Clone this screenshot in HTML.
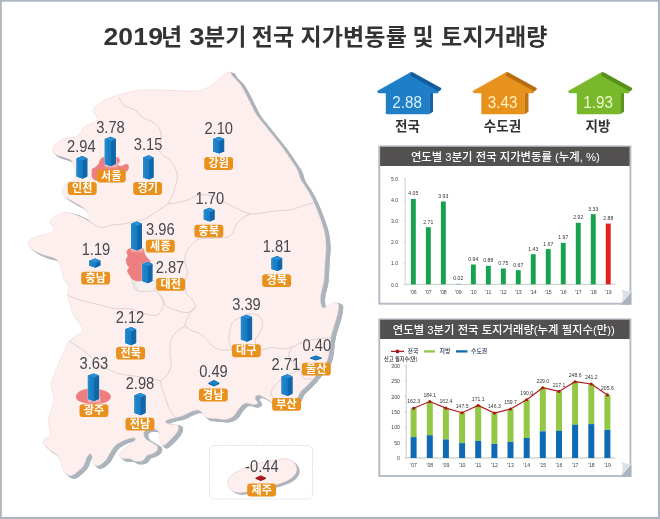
<!DOCTYPE html>
<html lang="ko"><head><meta charset="utf-8"><title>2019년 3분기 전국 지가변동률 및 토지거래량</title>
<style>
html,body{margin:0;padding:0;background:#fff}
body{width:660px;height:519px;overflow:hidden}
svg{display:block}
text{font-family:"Liberation Sans", "Noto Sans CJK KR", sans-serif}
.ttl{font-size:23px;font-weight:700;fill:#333;text-anchor:middle;letter-spacing:0.13px}
.lb{font-size:11px;font-weight:700;fill:#fff;text-anchor:middle;letter-spacing:0.2px}
.vl{font-size:16.9px;fill:#464852;text-anchor:middle}
.hn{font-size:13.5px;font-weight:700;fill:#333;text-anchor:middle}
.hv{font-size:16px;text-anchor:middle}
.ch{font-size:11.35px;font-weight:500;fill:#fff;text-anchor:middle}
.ax{font-size:5.2px;fill:#444;text-anchor:middle}
.axr{font-size:5.2px;fill:#444;text-anchor:end}
.bv{font-size:5.1px;fill:#333;text-anchor:middle}
.lg{font-size:5.9px;font-weight:700;fill:#4a5872}
</style></head><body>
<svg width="660" height="519" viewBox="0 0 660 519">
<defs>
<linearGradient id="bl" x1="0" x2="1" y1="0" y2="0"><stop offset="0" stop-color="#2a8fd4"/><stop offset="0.35" stop-color="#1c83c9"/><stop offset="1" stop-color="#177bc1"/></linearGradient>
<linearGradient id="refl" x1="0" x2="0" y1="0" y2="1"><stop offset="0" stop-color="#ffffff" stop-opacity="0.0"/><stop offset="0.6" stop-color="#f6f2f2" stop-opacity="0.45"/><stop offset="1" stop-color="#e6e2e2" stop-opacity="0"/></linearGradient>
<path id="ml" d="M93.7 112.8C93.2 111.3 93.4 109.5 94.5 107.8C95.6 106.1 97.7 104.4 100.4 102.7C103.1 101.0 107.2 99.1 110.5 97.7C113.8 96.3 116.6 95.4 120.5 94.3C124.4 93.2 129.1 91.8 134.0 91.0C138.9 90.2 143.2 89.9 150.0 89.8C156.8 89.7 167.5 90.3 175.0 90.5C182.5 90.7 189.6 91.5 195.0 91.0C200.4 90.5 204.2 88.9 207.5 87.5C210.8 86.1 212.5 84.4 215.0 82.5C217.5 80.6 220.1 77.8 222.5 76.0C224.9 74.2 227.8 72.0 229.5 72.0C231.2 72.0 230.8 74.0 232.5 76.0C234.2 78.0 237.9 81.2 240.0 84.0C242.1 86.8 243.3 89.4 245.0 92.5C246.7 95.6 248.2 98.9 250.0 102.5C251.8 106.1 253.9 110.7 256.0 114.0C258.1 117.3 259.8 119.0 262.5 122.5C265.2 126.0 269.2 130.8 272.5 135.0C275.8 139.2 279.4 143.3 282.5 147.5C285.6 151.7 288.5 156.2 291.0 160.0C293.5 163.8 295.8 166.7 297.5 170.0C299.2 173.3 299.3 176.7 301.0 180.0C302.7 183.3 305.3 186.2 307.5 190.0C309.7 193.8 312.1 198.3 314.0 202.5C315.9 206.7 317.3 210.4 319.0 215.0C320.7 219.6 322.8 225.0 324.0 230.0C325.2 235.0 325.8 239.6 326.0 245.0C326.2 250.4 325.3 256.7 325.0 262.5C324.7 268.3 324.5 275.4 324.0 280.0C323.5 284.6 322.4 287.2 321.8 290.0C321.2 292.8 320.7 294.8 320.5 297.0C320.3 299.2 320.5 301.3 320.8 303.0C321.1 304.7 321.6 306.5 322.3 307.3C323.0 308.1 323.9 308.0 325.2 307.6C326.5 307.2 328.5 305.9 330.0 305.0C331.5 304.1 332.8 302.7 334.0 302.4C335.2 302.1 336.7 302.8 337.5 303.4C338.3 304.0 338.7 303.8 338.7 305.8C338.7 307.8 338.1 311.8 337.3 315.2C336.5 318.6 335.0 322.6 334.0 326.0C333.0 329.4 332.0 332.0 331.3 335.4C330.6 338.8 330.3 342.8 329.9 346.2C329.4 349.6 329.2 353.0 328.6 355.6C328.0 358.2 327.5 360.0 326.5 362.0C325.5 364.0 323.8 365.9 322.5 367.5C321.2 369.1 320.6 369.8 318.9 371.9C317.2 374.0 314.4 377.8 312.2 380.3C310.0 382.8 307.5 385.1 305.5 387.0C303.5 388.9 301.7 390.3 300.4 392.0C299.1 393.7 298.8 395.2 297.9 397.0C297.0 398.8 296.6 401.3 295.0 403.0C293.4 404.7 290.5 406.5 288.0 407.0C285.5 407.5 282.5 406.7 280.0 406.0C277.5 405.3 274.4 403.8 272.8 403.0C271.2 402.2 271.5 402.1 270.2 401.2C268.9 400.3 266.9 398.9 265.2 397.9C263.5 396.9 261.6 395.8 260.2 395.4C258.8 395.0 257.7 394.8 256.8 395.4C256.0 395.9 254.9 397.4 255.1 398.7C255.2 399.9 258.0 401.9 257.7 402.9C257.4 403.9 255.3 404.6 253.5 404.6C251.7 404.6 248.7 402.8 246.7 402.9C244.7 403.0 243.2 404.1 241.7 405.4C240.2 406.7 238.5 409.1 237.5 410.5C236.5 411.9 236.5 412.4 235.6 413.5C234.7 414.6 234.0 415.9 232.3 416.9C230.6 417.9 228.4 419.1 225.6 419.4C222.8 419.7 218.6 418.9 215.5 418.6C212.4 418.3 209.1 418.4 207.0 417.7C204.9 417.0 204.1 415.5 203.0 414.4C201.9 413.3 201.7 411.7 200.4 411.0C199.1 410.3 197.4 409.9 195.4 410.2C193.4 410.5 190.9 411.7 188.7 412.7C186.5 413.7 184.2 415.2 182.0 416.0C179.8 416.8 178.1 416.9 175.6 417.6C173.1 418.3 168.9 419.2 167.2 420.0C165.5 420.8 164.9 421.9 165.5 422.6C166.1 423.3 168.6 423.9 170.6 424.3C172.6 424.7 176.1 424.1 177.3 425.0C178.6 425.9 178.7 428.2 178.1 430.0C177.5 431.8 175.5 434.2 174.0 436.0C172.5 437.8 170.7 439.4 169.0 441.0C167.3 442.6 165.3 444.9 163.9 445.3C162.5 445.7 161.2 445.0 160.5 443.6C159.8 442.2 160.0 438.9 159.7 436.9C159.4 434.9 159.5 433.1 158.8 431.8C158.1 430.5 157.0 429.9 155.5 429.3C154.0 428.8 151.7 428.4 150.0 428.5C148.3 428.6 146.6 429.2 145.5 430.0C144.4 430.8 143.7 432.1 143.7 433.5C143.7 434.9 144.0 437.1 145.4 438.6C146.8 440.2 150.2 441.6 152.1 442.8C154.0 444.1 156.3 444.9 157.1 446.1C157.9 447.4 157.9 449.0 157.1 450.3C156.3 451.6 153.8 452.9 152.1 453.7C150.4 454.5 148.6 454.2 147.1 455.3C145.6 456.4 144.9 459.4 142.9 460.4C140.9 461.4 137.4 461.5 135.3 461.2C133.2 460.9 132.2 459.1 130.3 458.7C128.4 458.3 125.4 459.1 123.6 458.7C121.8 458.3 120.0 457.2 119.4 456.2C118.8 455.2 119.2 454.1 120.2 452.8C121.2 451.5 123.5 450.1 125.3 448.6C127.0 447.1 129.0 445.1 130.7 443.6C132.4 442.1 135.4 440.4 135.7 439.4C136.0 438.4 134.2 437.6 132.3 437.8C130.4 438.0 126.8 439.1 124.0 440.3C121.2 441.6 117.8 443.4 115.6 445.3C113.3 447.2 112.2 449.5 110.5 452.0C108.8 454.5 107.5 458.2 105.5 460.4C103.5 462.6 100.8 464.7 98.8 465.4C96.8 466.1 94.8 465.7 93.8 464.6C92.8 463.5 93.5 460.5 92.9 458.7C92.3 456.9 91.4 454.0 90.4 453.7C89.4 453.4 88.1 455.1 87.0 457.0C85.9 458.9 85.1 463.1 83.7 465.4C82.3 467.6 80.7 468.8 78.7 470.5C76.7 472.2 74.0 474.9 71.9 475.5C69.8 476.1 67.6 474.9 66.1 473.8C64.6 472.7 63.7 471.0 62.7 468.8C61.7 466.6 61.5 462.9 60.2 460.4C59.0 457.9 57.2 455.6 55.2 453.7C53.2 451.8 50.5 450.4 48.5 448.7C46.5 447.0 44.1 445.2 43.4 443.6C42.7 442.1 43.2 440.8 44.3 439.4C45.4 438.0 49.3 437.0 50.1 435.2C50.9 433.4 49.6 431.3 49.3 428.5C49.0 425.7 48.1 421.9 48.5 418.5C48.9 415.1 50.9 411.8 51.8 408.4C52.7 405.0 54.1 401.9 54.0 398.0C53.9 394.1 50.8 389.2 51.0 385.0C51.2 380.8 53.5 376.7 55.0 372.5C56.5 368.3 58.3 363.8 60.0 360.0C61.7 356.2 63.5 353.2 65.0 350.0C66.5 346.8 67.2 343.3 69.0 341.0C70.8 338.7 73.8 337.7 76.0 336.0C78.2 334.3 81.8 333.0 82.5 331.0C83.2 329.0 81.4 326.5 80.0 324.0C78.6 321.5 75.5 318.8 74.0 316.0C72.5 313.2 72.1 311.0 71.0 307.5C69.9 304.0 67.9 298.6 67.5 295.0C67.1 291.4 69.3 288.3 68.7 285.6C68.1 282.9 64.8 281.4 63.7 278.9C62.6 276.4 62.8 273.3 62.0 270.5C61.2 267.7 60.1 264.1 58.7 262.0C57.3 259.9 56.1 259.1 53.6 257.9C51.1 256.7 47.0 256.3 43.6 255.0C40.2 253.7 36.0 251.8 33.5 250.0C31.0 248.2 29.1 246.2 28.5 244.5C27.9 242.8 28.3 241.4 30.0 240.0C31.7 238.6 35.4 237.1 38.5 236.0C41.6 234.9 45.9 234.6 48.6 233.6C51.3 232.6 53.8 231.1 54.5 230.0C55.2 228.9 53.5 228.2 52.8 226.8C52.1 225.4 49.9 223.5 50.3 221.8C50.7 220.1 53.1 218.3 55.3 216.8C57.5 215.3 60.9 213.2 63.7 212.6C66.5 212.0 69.2 212.7 72.0 213.4C74.8 214.1 77.7 215.5 80.5 216.8C83.3 218.1 87.5 220.5 88.9 221.0C90.3 221.5 89.1 221.3 88.9 220.0C88.8 218.7 89.2 215.6 88.0 213.4C86.8 211.2 84.4 208.6 82.0 206.7C79.6 204.8 76.6 203.6 73.8 202.0C71.0 200.4 67.4 198.7 65.4 197.0C63.4 195.3 62.3 193.7 62.0 192.0C61.7 190.3 62.6 188.7 63.7 187.0C64.8 185.3 66.8 183.4 68.7 182.0C70.7 180.6 74.4 180.9 75.4 178.7C76.4 176.5 75.2 171.5 74.6 168.6C74.0 165.7 73.5 162.8 72.0 161.0C70.5 159.2 67.9 158.7 65.4 157.7C62.9 156.7 59.1 156.0 57.0 155.0C54.9 154.0 53.4 153.2 52.8 151.8C52.2 150.4 52.6 148.5 53.6 146.8C54.6 145.1 56.7 143.1 58.7 141.7C60.7 140.3 62.7 139.2 65.4 138.4C68.1 137.6 72.4 138.1 75.0 137.0C77.6 135.9 79.6 133.7 81.0 132.0C82.4 130.3 82.0 128.3 83.6 127.0C85.1 125.7 88.2 125.0 90.3 124.0C92.4 123.0 94.9 122.3 96.1 121.1C97.3 119.9 98.0 118.4 97.6 117.0C97.2 115.6 94.2 114.3 93.7 112.8Z"/>
<clipPath id="mc"><use href="#ml"/></clipPath>
</defs>
<rect x="0" y="0" width="660" height="519" fill="#adb5be"/>
<rect x="1.8" y="1.7" width="656.2" height="515.2" fill="#ffffff"/>
<text transform="translate(103.4 44.8) scale(1.155 1)" class="ttl" style="text-anchor:start">2019</text><text transform="translate(189.2 44.8) scale(1.2 1)" class="ttl" style="text-anchor:start">3</text><text y="44.8" class="ttl" style="text-anchor:start"><tspan x="160.9">년</tspan> <tspan x="204">분기</tspan> <tspan x="251.7">전국</tspan> <tspan x="300.5">지가변동률</tspan> <tspan x="412.5">및</tspan> <tspan x="441.1">토지거래량</tspan></text>

<g id="map">
<use href="#ml" transform="translate(1.2,0.3)" fill="#acb4bc"/>
<use href="#ml" transform="translate(2.3,0.6)" fill="#acb4bc"/>
<use href="#ml" transform="translate(3.5,0.9)" fill="#acb4bc"/>
<use href="#ml" transform="translate(4.6,1.2)" fill="#acb4bc"/>
<use href="#ml" transform="translate(4.5,1.9)" fill="#acb4bc"/>
<use href="#ml" transform="translate(4.2,2.4)" fill="#acb4bc"/>
<use href="#ml" transform="translate(3.8,2.9)" fill="#acb4bc"/>
<use href="#ml" transform="translate(3.4,3.2)" fill="#acb4bc"/>
<use href="#ml" transform="translate(2.5,2.4)" fill="#acb4bc"/>
<use href="#ml" transform="translate(1.7,1.6)" fill="#acb4bc"/>
<use href="#ml" transform="translate(0.9,0.8)" fill="#acb4bc"/>
<use href="#ml" fill="#fdefed" stroke="#ead6d4" stroke-width="0.5"/>
<g fill="none" stroke="#c2bbbb" stroke-width="0.55" clip-path="url(#mc)">
<path d="M118.8 97.5C119.8 98.9 122.3 103.9 125.0 106.0C127.7 108.1 132.1 108.1 135.0 110.0C137.9 111.9 139.4 115.4 142.5 117.5C145.6 119.6 150.8 120.4 153.8 122.5C156.7 124.6 158.8 127.1 160.0 130.0C161.2 132.9 161.2 137.1 161.0 140.0C160.8 142.9 158.5 145.0 158.8 147.5C159.0 150.0 160.6 152.9 162.5 155.0C164.4 157.1 167.9 157.9 170.0 160.0C172.1 162.1 173.8 164.6 175.0 167.5C176.2 170.4 177.5 174.2 177.5 177.5C177.5 180.8 175.8 184.6 175.0 187.5C174.2 190.4 173.8 192.2 172.5 195.0C171.2 197.8 170.0 201.3 167.5 204.0C165.0 206.7 161.2 208.5 157.5 211.0C153.8 213.5 149.2 216.9 145.0 218.8C140.8 220.6 135.3 221.2 132.0 222.0C128.7 222.8 128.2 223.2 125.0 223.8C121.8 224.2 116.7 224.4 112.5 225.0C108.3 225.6 103.9 228.2 100.0 227.5C96.1 226.8 90.8 222.1 88.9 221.0"/>
<path d="M167.5 204.0C169.2 203.8 174.2 203.2 177.5 202.5C180.8 201.8 184.4 201.1 187.5 200.0C190.6 198.9 192.7 196.8 196.0 196.0C199.3 195.2 202.7 193.9 207.5 195.0C212.3 196.1 220.0 200.2 225.0 202.5C230.0 204.8 233.3 206.9 237.5 208.8C241.7 210.6 245.4 213.1 250.0 213.8C254.6 214.4 260.8 213.0 265.0 212.5C269.2 212.0 270.8 211.4 275.0 211.0C279.2 210.6 285.4 210.8 290.0 210.0C294.6 209.2 298.3 207.2 302.5 206.0C306.7 204.8 312.9 203.1 315.0 202.5"/>
<path d="M250.0 213.8C248.3 214.8 242.5 217.7 240.0 220.0C237.5 222.3 236.7 224.8 235.0 227.5C233.3 230.2 232.8 234.2 230.0 236.0C227.2 237.8 223.0 237.5 218.0 238.0C213.0 238.5 204.2 237.8 200.0 238.8C195.8 239.7 194.8 241.5 192.5 243.8C190.2 246.0 187.2 249.4 186.0 252.5C184.8 255.6 184.8 259.2 185.0 262.5C185.2 265.8 187.5 269.2 187.5 272.5C187.5 275.8 185.2 279.2 185.0 282.5C184.8 285.8 184.8 289.6 186.0 292.5C187.2 295.4 191.0 297.5 192.5 300.0C194.0 302.5 195.8 305.4 195.0 307.5C194.2 309.6 190.8 312.1 187.5 312.5C184.2 312.9 178.8 311.2 175.0 310.0C171.2 308.8 167.5 307.5 165.0 305.0C162.5 302.5 161.9 297.5 160.0 295.0C158.1 292.5 156.7 290.7 153.8 290.0C150.8 289.3 145.6 291.2 142.5 291.0C139.4 290.8 136.7 290.6 135.0 288.8C133.3 286.9 132.9 281.5 132.5 280.0"/>
<path d="M67.5 295.0C69.6 295.8 74.6 298.3 80.0 300.0C85.4 301.7 94.2 303.5 100.0 305.0C105.8 306.5 110.0 308.1 115.0 308.8C120.0 309.4 125.0 307.9 130.0 308.8C135.0 309.6 140.4 312.7 145.0 313.8C149.6 314.8 154.6 316.0 157.5 315.0C160.4 314.0 161.5 310.0 162.5 307.5C163.5 305.0 164.2 302.1 163.8 300.0C163.3 297.9 160.6 295.8 160.0 295.0"/>
<path d="M195.0 307.5C194.6 307.9 193.8 308.3 192.5 310.0C191.2 311.7 188.8 314.8 187.5 317.5C186.2 320.2 185.4 324.6 185.0 326.0"/>
<path d="M185.0 326.0C186.2 326.8 190.0 329.7 192.5 331.0C195.0 332.3 197.5 332.2 200.0 333.8C202.5 335.2 205.4 338.0 207.5 340.0C209.6 342.0 210.4 344.3 212.5 346.0C214.6 347.7 216.8 349.3 220.0 350.0C223.2 350.7 227.7 349.7 232.0 350.0C236.3 350.3 241.2 352.0 246.0 352.0C250.8 352.0 256.2 350.7 260.6 350.0C265.0 349.3 268.5 347.8 272.4 347.6C276.3 347.4 280.5 349.0 284.0 348.8C287.5 348.6 290.7 347.5 293.5 346.5C296.3 345.5 297.5 344.1 300.6 343.0C303.7 341.9 308.4 340.8 312.0 340.0C315.6 339.2 318.5 338.3 322.0 338.0C325.5 337.7 331.2 338.0 333.0 338.0"/>
<path d="M185.0 326.0C183.8 326.8 179.8 328.7 177.5 331.0C175.2 333.3 172.2 336.4 171.0 340.0C169.8 343.6 170.0 348.3 170.0 352.5C170.0 356.7 171.4 361.2 171.0 365.0C170.6 368.8 169.2 372.3 167.5 375.0C165.8 377.7 161.8 378.5 161.0 381.0C160.2 383.5 161.7 386.8 162.5 390.0C163.3 393.2 164.8 396.7 166.0 400.0C167.2 403.3 168.5 407.2 170.0 410.0C171.5 412.8 174.2 415.8 175.0 417.0"/>
<path d="M69.0 341.0C70.8 342.2 76.5 345.5 80.0 348.0C83.5 350.5 86.7 353.2 90.0 356.0C93.3 358.8 96.7 362.7 100.0 365.0C103.3 367.3 106.7 368.5 110.0 370.0C113.3 371.5 116.0 372.8 120.0 373.8C124.0 374.8 129.3 375.3 134.0 376.0C138.7 376.7 143.5 377.2 148.0 378.0C152.5 378.8 158.8 380.5 161.0 381.0"/>
<path d="M232.0 350.0C231.5 348.3 229.3 343.3 229.0 340.0C228.7 336.7 229.4 332.9 230.0 330.0C230.6 327.1 230.8 324.6 232.5 322.5C234.2 320.4 237.4 318.9 240.0 317.5C242.6 316.1 245.1 314.4 248.0 314.0C250.9 313.6 255.1 313.6 257.5 315.0C259.9 316.4 262.1 319.6 262.5 322.5C262.9 325.4 261.2 329.6 260.0 332.5C258.8 335.4 255.3 337.1 255.0 340.0C254.7 342.9 257.5 348.3 258.0 350.0"/>
<path d="M293.5 346.5C292.7 347.7 289.1 350.9 288.8 353.5C288.6 356.1 290.0 359.2 292.0 362.0C294.0 364.8 298.8 367.3 300.6 370.0C302.4 372.7 301.1 376.4 303.0 378.0C304.9 379.6 309.7 378.4 312.0 379.4C314.3 380.4 316.2 383.2 317.0 384.0"/>
<path d="M300.6 370.0C298.8 370.7 293.4 372.3 290.0 374.0C286.6 375.7 282.9 377.5 280.0 380.0C277.1 382.5 273.9 386.6 272.4 388.8C270.9 391.1 270.7 391.6 271.0 393.5C271.3 395.4 273.5 398.9 274.0 400.0"/>
</g>
<path d="M136.5 281.0C133.5 282.2 135.9 286.2 136.5 288.0C137.1 289.8 138.2 291.0 140.0 291.5C141.8 292.0 145.0 291.0 147.0 291.0C149.0 291.0 150.6 292.0 152.0 291.5C153.4 291.0 155.1 289.8 155.5 288.0C155.9 286.2 157.7 282.2 154.5 281.0C151.3 279.8 139.5 279.8 136.5 281.0Z" fill="#f6f1f1" stroke="#c9c3c3" stroke-width="0.5"/>
<path d="M91.9 177.0C91.4 175.7 91.7 173.3 91.7 172.0C91.7 170.7 91.4 170.1 91.9 169.3C92.5 168.5 94.0 168.1 95.0 167.3C96.0 166.5 97.3 165.7 98.1 164.6C98.9 163.5 99.0 162.0 99.6 160.8C100.2 159.7 101.0 158.3 101.9 157.7C102.8 157.0 103.5 157.1 105.0 156.9C106.5 156.7 109.1 156.6 111.0 156.6C112.9 156.6 115.2 156.6 116.6 156.9C118.0 157.2 118.8 157.7 119.3 158.5C119.8 159.3 119.9 160.7 119.7 161.6C119.5 162.5 118.2 163.2 118.1 163.9C118.0 164.6 118.1 165.6 118.9 165.8C119.7 166.1 121.6 165.7 122.7 165.4C123.8 165.1 124.9 164.0 125.8 163.9C126.7 163.8 127.6 164.0 128.1 164.6C128.6 165.2 129.0 166.7 128.9 167.7C128.8 168.7 128.0 170.0 127.4 170.8C126.8 171.6 125.6 171.3 125.1 172.3C124.6 173.3 125.3 175.6 124.5 177.0C123.7 178.4 124.1 180.3 120.0 181.0C115.9 181.7 104.2 181.2 100.0 181.0C95.8 180.8 95.8 180.7 94.5 180.0C93.2 179.3 92.4 178.3 91.9 177.0Z" fill="#ee7f80"/>
<path d="M127.1 250.6C127.7 249.8 128.3 248.8 130.0 248.3C131.7 247.8 134.8 247.6 137.0 247.6C139.2 247.6 142.1 247.5 143.3 248.3C144.6 249.1 144.0 251.0 144.5 252.3C145.0 253.7 145.3 255.1 146.2 256.4C147.1 257.7 148.9 258.8 149.7 259.9C150.5 260.9 150.6 260.7 150.8 262.7C151.0 264.7 151.5 269.3 151.0 272.0C150.5 274.7 149.5 277.6 148.0 279.0C146.5 280.4 144.0 280.3 142.2 280.7C140.4 281.1 138.7 281.4 137.0 281.2C135.3 281.0 133.6 280.4 132.3 279.5C131.1 278.6 130.4 276.9 129.5 275.5C128.6 274.1 127.2 272.2 127.1 270.8C127.0 269.4 129.0 268.5 128.9 267.4C128.8 266.2 127.1 265.2 126.6 263.9C126.1 262.5 125.8 260.6 126.0 259.3C126.2 258.0 127.6 256.9 127.7 255.8C127.8 254.7 126.7 253.8 126.6 252.9C126.5 252.0 126.5 251.4 127.1 250.6Z" fill="#ee7f80"/>
<path d="M76.0 396.2C76.1 395.0 76.7 393.8 77.7 392.7C78.8 391.6 80.6 390.6 82.3 389.9C84.0 389.2 86.0 388.9 88.1 388.7C90.2 388.4 92.7 388.2 95.0 388.4C97.3 388.6 99.9 389.3 102.0 389.9C104.1 390.5 106.3 391.2 107.8 392.2C109.2 393.1 110.3 394.5 110.7 395.6C111.1 396.8 110.8 398.0 110.1 399.1C109.4 400.2 108.3 401.2 106.6 402.0C104.9 402.8 101.8 403.4 99.7 403.7C97.6 404.0 95.9 404.0 94.0 404.0C92.1 404.0 90.2 404.0 88.1 403.7C86.0 403.4 83.0 402.7 81.2 402.0C79.4 401.3 78.0 400.7 77.1 399.7C76.2 398.7 75.9 397.4 76.0 396.2Z" fill="#ee7f80"/>
</g>
<rect x="209.5" y="445.5" width="103" height="53.5" rx="5" fill="#fff" stroke="#c4c4c4" stroke-width="0.8" stroke-dasharray="1 1.2"/>
<path d="M227.9 483.6C227.7 481.6 228.3 479.4 229.4 477.6C230.5 475.8 232.5 474.4 234.7 473.0C236.8 471.6 239.8 470.3 242.3 469.2C244.8 468.1 246.9 467.2 249.8 466.2C252.8 465.2 256.6 463.9 260.0 463.0C263.4 462.1 266.9 461.4 270.0 460.8C273.1 460.2 275.9 459.8 278.6 459.4C281.3 459.0 283.9 458.4 286.2 458.6C288.5 458.9 290.6 459.8 292.3 460.9C294.0 462.0 295.4 463.9 296.1 465.5C296.9 467.1 297.2 469.0 296.8 470.8C296.4 472.6 295.3 474.5 293.8 476.1C292.3 477.7 290.0 479.4 287.7 480.6C285.4 481.9 283.1 482.6 280.2 483.6C277.2 484.6 273.7 485.4 270.0 486.5C266.3 487.6 261.9 489.1 258.0 490.0C254.1 490.9 250.2 491.6 246.8 492.0C243.4 492.4 240.3 493.1 237.7 492.7C235.0 492.3 232.5 491.2 230.9 489.7C229.3 488.2 228.2 485.6 227.9 483.6Z" transform="translate(2.7,2.1)" fill="#acb4bc"/><path d="M227.9 483.6C227.7 481.6 228.3 479.4 229.4 477.6C230.5 475.8 232.5 474.4 234.7 473.0C236.8 471.6 239.8 470.3 242.3 469.2C244.8 468.1 246.9 467.2 249.8 466.2C252.8 465.2 256.6 463.9 260.0 463.0C263.4 462.1 266.9 461.4 270.0 460.8C273.1 460.2 275.9 459.8 278.6 459.4C281.3 459.0 283.9 458.4 286.2 458.6C288.5 458.9 290.6 459.8 292.3 460.9C294.0 462.0 295.4 463.9 296.1 465.5C296.9 467.1 297.2 469.0 296.8 470.8C296.4 472.6 295.3 474.5 293.8 476.1C292.3 477.7 290.0 479.4 287.7 480.6C285.4 481.9 283.1 482.6 280.2 483.6C277.2 484.6 273.7 485.4 270.0 486.5C266.3 487.6 261.9 489.1 258.0 490.0C254.1 490.9 250.2 491.6 246.8 492.0C243.4 492.4 240.3 493.1 237.7 492.7C235.0 492.3 232.5 491.2 230.9 489.7C229.3 488.2 228.2 485.6 227.9 483.6Z" transform="translate(1.4,1.1)" fill="#acb4bc"/><path d="M227.9 483.6C227.7 481.6 228.3 479.4 229.4 477.6C230.5 475.8 232.5 474.4 234.7 473.0C236.8 471.6 239.8 470.3 242.3 469.2C244.8 468.1 246.9 467.2 249.8 466.2C252.8 465.2 256.6 463.9 260.0 463.0C263.4 462.1 266.9 461.4 270.0 460.8C273.1 460.2 275.9 459.8 278.6 459.4C281.3 459.0 283.9 458.4 286.2 458.6C288.5 458.9 290.6 459.8 292.3 460.9C294.0 462.0 295.4 463.9 296.1 465.5C296.9 467.1 297.2 469.0 296.8 470.8C296.4 472.6 295.3 474.5 293.8 476.1C292.3 477.7 290.0 479.4 287.7 480.6C285.4 481.9 283.1 482.6 280.2 483.6C277.2 484.6 273.7 485.4 270.0 486.5C266.3 487.6 261.9 489.1 258.0 490.0C254.1 490.9 250.2 491.6 246.8 492.0C243.4 492.4 240.3 493.1 237.7 492.7C235.0 492.3 232.5 491.2 230.9 489.7C229.3 488.2 228.2 485.6 227.9 483.6Z" fill="#fdefed" stroke="#d9c3c1" stroke-width="0.5"/>
<polygon points="76.6,172.8 88.9,172.8 88.9,181.8 76.6,181.8" fill="url(#refl)"/><polygon points="76.6,158.2 82.2,156.0 87.4,158.2 87.4,176.6 82.7,178.8 76.6,176.6" fill="#1066ab" stroke="#fff" stroke-opacity="0.5" stroke-width="1.3" stroke-linejoin="round"/><polygon points="76.6,158.2 82.2,156.0 87.4,158.2 87.4,176.6 82.7,178.8 76.6,176.6" fill="#1066ab"/><polygon points="76.6,158.2 82.7,160.4 82.7,178.8 76.6,176.6" fill="url(#bl)"/><polygon points="76.6,158.2 82.2,156.0 87.4,158.2 82.7,160.4" fill="#2a8ed2"/>
<polygon points="104.8,160.2 117.4,160.2 117.4,169.2 104.8,169.2" fill="url(#refl)"/><polygon points="104.8,139.0 110.6,136.8 115.9,139.0 115.9,164.0 111.1,166.2 104.8,164.0" fill="#1066ab" stroke="#fff" stroke-opacity="0.5" stroke-width="1.3" stroke-linejoin="round"/><polygon points="104.8,139.0 110.6,136.8 115.9,139.0 115.9,164.0 111.1,166.2 104.8,164.0" fill="#1066ab"/><polygon points="104.8,139.0 111.1,141.2 111.1,166.2 104.8,164.0" fill="url(#bl)"/><polygon points="104.8,139.0 110.6,136.8 115.9,139.0 111.1,141.2" fill="#2a8ed2"/>
<polygon points="143.0,173.6 155.2,173.6 155.2,182.6 143.0,182.6" fill="url(#refl)"/><polygon points="143.0,157.5 148.6,155.3 153.7,157.5 153.7,177.4 149.1,179.6 143.0,177.4" fill="#1066ab" stroke="#fff" stroke-opacity="0.5" stroke-width="1.3" stroke-linejoin="round"/><polygon points="143.0,157.5 148.6,155.3 153.7,157.5 153.7,177.4 149.1,179.6 143.0,177.4" fill="#1066ab"/><polygon points="143.0,157.5 149.1,159.7 149.1,179.6 143.0,177.4" fill="url(#bl)"/><polygon points="143.0,157.5 148.6,155.3 153.7,157.5 149.1,159.7" fill="#2a8ed2"/>
<polygon points="213.1,147.6 225.7,147.6 225.7,156.6 213.1,156.6" fill="url(#refl)"/><polygon points="213.1,139.0 218.9,136.8 224.2,139.0 224.2,151.4 219.4,153.6 213.1,151.4" fill="#1066ab" stroke="#fff" stroke-opacity="0.5" stroke-width="1.3" stroke-linejoin="round"/><polygon points="213.1,139.0 218.9,136.8 224.2,139.0 224.2,151.4 219.4,153.6 213.1,151.4" fill="#1066ab"/><polygon points="213.1,139.0 219.4,141.2 219.4,153.6 213.1,151.4" fill="url(#bl)"/><polygon points="213.1,139.0 218.9,136.8 224.2,139.0 219.4,141.2" fill="#2a8ed2"/>
<polygon points="203.8,215.6 216.2,215.6 216.2,224.6 203.8,224.6" fill="url(#refl)"/><polygon points="203.8,209.9 209.5,207.7 214.7,209.9 214.7,219.4 210.0,221.6 203.8,219.4" fill="#1066ab" stroke="#fff" stroke-opacity="0.5" stroke-width="1.3" stroke-linejoin="round"/><polygon points="203.8,209.9 209.5,207.7 214.7,209.9 214.7,219.4 210.0,221.6 203.8,219.4" fill="#1066ab"/><polygon points="203.8,209.9 210.0,212.1 210.0,221.6 203.8,219.4" fill="url(#bl)"/><polygon points="203.8,209.9 209.5,207.7 214.7,209.9 210.0,212.1" fill="#2a8ed2"/>
<polygon points="131.1,244.4 143.5,244.4 143.5,253.4 131.1,253.4" fill="url(#refl)"/><polygon points="131.1,223.8 136.8,221.6 142.0,223.8 142.0,248.2 137.3,250.4 131.1,248.2" fill="#1066ab" stroke="#fff" stroke-opacity="0.5" stroke-width="1.3" stroke-linejoin="round"/><polygon points="131.1,223.8 136.8,221.6 142.0,223.8 142.0,248.2 137.3,250.4 131.1,248.2" fill="#1066ab"/><polygon points="131.1,223.8 137.3,226.0 137.3,250.4 131.1,248.2" fill="url(#bl)"/><polygon points="131.1,223.8 136.8,221.6 142.0,223.8 137.3,226.0" fill="#2a8ed2"/>
<polygon points="89.2,261.8 102.0,261.8 102.0,270.8 89.2,270.8" fill="url(#refl)"/><polygon points="89.2,260.7 95.1,258.5 100.5,260.7 100.5,265.6 95.6,267.8 89.2,265.6" fill="#1066ab" stroke="#fff" stroke-opacity="0.5" stroke-width="1.3" stroke-linejoin="round"/><polygon points="89.2,260.7 95.1,258.5 100.5,260.7 100.5,265.6 95.6,267.8 89.2,265.6" fill="#1066ab"/><polygon points="89.2,260.7 95.6,262.9 95.6,267.8 89.2,265.6" fill="url(#bl)"/><polygon points="89.2,260.7 95.1,258.5 100.5,260.7 95.6,262.9" fill="#2a8ed2"/>
<polygon points="142.2,277.3 154.0,277.3 154.0,286.3 142.2,286.3" fill="url(#refl)"/><polygon points="142.2,264.0 147.5,261.8 152.5,264.0 152.5,281.1 148.0,283.3 142.2,281.1" fill="#1066ab" stroke="#fff" stroke-opacity="0.5" stroke-width="1.3" stroke-linejoin="round"/><polygon points="142.2,264.0 147.5,261.8 152.5,264.0 152.5,281.1 148.0,283.3 142.2,281.1" fill="#1066ab"/><polygon points="142.2,264.0 148.0,266.2 148.0,283.3 142.2,281.1" fill="url(#bl)"/><polygon points="142.2,264.0 147.5,261.8 152.5,264.0 148.0,266.2" fill="#2a8ed2"/>
<polygon points="271.5,265.1 283.8,265.1 283.8,274.1 271.5,274.1" fill="url(#refl)"/><polygon points="271.5,258.2 277.1,256.0 282.2,258.2 282.2,268.9 277.6,271.1 271.5,268.9" fill="#1066ab" stroke="#fff" stroke-opacity="0.5" stroke-width="1.3" stroke-linejoin="round"/><polygon points="271.5,258.2 277.1,256.0 282.2,258.2 282.2,268.9 277.6,271.1 271.5,268.9" fill="#1066ab"/><polygon points="271.5,258.2 277.6,260.4 277.6,271.1 271.5,268.9" fill="url(#bl)"/><polygon points="271.5,258.2 277.1,256.0 282.2,258.2 277.6,260.4" fill="#2a8ed2"/>
<polygon points="125.1,339.2 137.8,339.2 137.8,348.2 125.1,348.2" fill="url(#refl)"/><polygon points="125.1,329.2 131.0,327.0 136.2,329.2 136.2,343.0 131.5,345.2 125.1,343.0" fill="#1066ab" stroke="#fff" stroke-opacity="0.5" stroke-width="1.3" stroke-linejoin="round"/><polygon points="125.1,329.2 131.0,327.0 136.2,329.2 136.2,343.0 131.5,345.2 125.1,343.0" fill="#1066ab"/><polygon points="125.1,329.2 131.5,331.4 131.5,345.2 125.1,343.0" fill="url(#bl)"/><polygon points="125.1,329.2 131.0,327.0 136.2,329.2 131.5,331.4" fill="#2a8ed2"/>
<polygon points="240.9,335.8 253.6,335.8 253.6,344.8 240.9,344.8" fill="url(#refl)"/><polygon points="240.9,316.9 246.8,314.7 252.1,316.9 252.1,339.6 247.3,341.8 240.9,339.6" fill="#1066ab" stroke="#fff" stroke-opacity="0.5" stroke-width="1.3" stroke-linejoin="round"/><polygon points="240.9,316.9 246.8,314.7 252.1,316.9 252.1,339.6 247.3,341.8 240.9,339.6" fill="#1066ab"/><polygon points="240.9,316.9 247.3,319.1 247.3,341.8 240.9,339.6" fill="url(#bl)"/><polygon points="240.9,316.9 246.8,314.7 252.1,316.9 247.3,319.1" fill="#2a8ed2"/>
<polygon points="281.6,389.9 294.1,389.9 294.1,398.9 281.6,398.9" fill="url(#refl)"/><polygon points="281.6,376.4 287.4,374.2 292.6,376.4 292.6,393.7 287.9,395.9 281.6,393.7" fill="#1066ab" stroke="#fff" stroke-opacity="0.5" stroke-width="1.3" stroke-linejoin="round"/><polygon points="281.6,376.4 287.4,374.2 292.6,376.4 292.6,393.7 287.9,395.9 281.6,393.7" fill="#1066ab"/><polygon points="281.6,376.4 287.9,378.6 287.9,395.9 281.6,393.7" fill="url(#bl)"/><polygon points="281.6,376.4 287.4,374.2 292.6,376.4 287.9,378.6" fill="#2a8ed2"/>
<polygon points="87.9,395.2 100.6,395.2 100.6,404.2 87.9,404.2" fill="url(#refl)"/><polygon points="87.9,375.6 93.8,373.4 99.1,375.6 99.1,399.0 94.3,401.2 87.9,399.0" fill="#1066ab" stroke="#fff" stroke-opacity="0.5" stroke-width="1.3" stroke-linejoin="round"/><polygon points="87.9,375.6 93.8,373.4 99.1,375.6 99.1,399.0 94.3,401.2 87.9,399.0" fill="#1066ab"/><polygon points="87.9,375.6 94.3,377.8 94.3,401.2 87.9,399.0" fill="url(#bl)"/><polygon points="87.9,375.6 93.8,373.4 99.1,375.6 94.3,377.8" fill="#2a8ed2"/>
<polygon points="134.5,409.3 147.2,409.3 147.2,418.3 134.5,418.3" fill="url(#refl)"/><polygon points="134.5,395.2 140.4,393.0 145.7,395.2 145.7,413.1 140.9,415.3 134.5,413.1" fill="#1066ab" stroke="#fff" stroke-opacity="0.5" stroke-width="1.3" stroke-linejoin="round"/><polygon points="134.5,395.2 140.4,393.0 145.7,395.2 145.7,413.1 140.9,415.3 134.5,413.1" fill="#1066ab"/><polygon points="134.5,395.2 140.9,397.4 140.9,415.3 134.5,413.1" fill="url(#bl)"/><polygon points="134.5,395.2 140.4,393.0 145.7,395.2 140.9,397.4" fill="#2a8ed2"/>
<polygon points="310.0,357.7 315.9,355.4 321.8,357.7 321.8,358.5 315.9,360.6 310.0,358.5" fill="#0e5c9c"/><polygon points="310.0,357.7 315.9,355.4 321.8,357.7 315.9,359.8" fill="#1b7fc4"/>
<polygon points="208.4,382.9 213.9,380.0 219.4,382.9 219.4,383.9 213.9,386.5 208.4,383.9" fill="#0e5c9c"/><polygon points="208.4,382.9 213.9,380.0 219.4,382.9 213.9,385.5" fill="#1b7fc4"/>
<polygon points="255.5,478.0 260.8,475.6 266.0,478.0 266.0,478.8 260.8,481.0 255.5,478.8" fill="#7d0f10"/><polygon points="255.5,478.0 260.8,475.6 266.0,478.0 260.8,480.2" fill="#b3191c"/>
<rect x="67.8" y="182.0" width="28.9" height="12.9" rx="3.1" fill="#e8911d"/><text x="82.3" y="192.2" class="lb">인천</text>
<text transform="translate(81.4 151.6) scale(0.87 1)" class="vl">2.94</text>
<rect x="96.8" y="169.5" width="28.9" height="12.9" rx="3.1" fill="#e8911d"/><text x="111.3" y="179.7" class="lb">서울</text>
<text transform="translate(110.5 132.8) scale(0.87 1)" class="vl">3.78</text>
<rect x="133.2" y="182.0" width="28.9" height="12.9" rx="3.1" fill="#e8911d"/><text x="147.8" y="192.2" class="lb">경기</text>
<text transform="translate(148.1 149.6) scale(0.87 1)" class="vl">3.15</text>
<rect x="204.2" y="157.0" width="28.9" height="12.9" rx="3.1" fill="#e8911d"/><text x="218.8" y="167.2" class="lb">강원</text>
<text transform="translate(218.7 133.6) scale(0.87 1)" class="vl">2.10</text>
<rect x="194.4" y="224.7" width="28.9" height="12.9" rx="3.1" fill="#e8911d"/><text x="208.9" y="234.8" class="lb">충북</text>
<text transform="translate(209.9 204.1) scale(0.87 1)" class="vl">1.70</text>
<rect x="145.9" y="239.7" width="28.9" height="12.9" rx="3.1" fill="#e8911d"/><text x="160.4" y="249.8" class="lb">세종</text>
<text transform="translate(160.3 235.3) scale(0.87 1)" class="vl">3.96</text>
<rect x="81.2" y="271.7" width="28.9" height="12.9" rx="3.1" fill="#e8911d"/><text x="95.8" y="281.8" class="lb">충남</text>
<text transform="translate(96.0 255.3) scale(0.87 1)" class="vl">1.19</text>
<rect x="156.2" y="277.9" width="28.9" height="12.9" rx="3.1" fill="#e8911d"/><text x="170.7" y="288.0" class="lb">대전</text>
<text transform="translate(170.0 273.0) scale(0.87 1)" class="vl">2.87</text>
<rect x="262.2" y="274.2" width="28.9" height="12.9" rx="3.1" fill="#e8911d"/><text x="276.8" y="284.3" class="lb">경북</text>
<text transform="translate(277.0 252.3) scale(0.87 1)" class="vl">1.81</text>
<rect x="116.1" y="346.7" width="28.9" height="12.9" rx="3.1" fill="#e8911d"/><text x="130.7" y="356.8" class="lb">전북</text>
<text transform="translate(130.0 323.2) scale(0.87 1)" class="vl">2.12</text>
<rect x="231.9" y="344.3" width="28.9" height="12.9" rx="3.1" fill="#e8911d"/><text x="246.4" y="354.4" class="lb">대구</text>
<text transform="translate(246.5 309.5) scale(0.87 1)" class="vl">3.39</text>
<rect x="272.1" y="397.9" width="28.9" height="12.9" rx="3.1" fill="#e8911d"/><text x="286.6" y="408.0" class="lb">부산</text>
<text transform="translate(285.9 369.9) scale(0.87 1)" class="vl">2.71</text>
<rect x="79.5" y="404.2" width="28.9" height="12.9" rx="3.1" fill="#e8911d"/><text x="94.0" y="414.3" class="lb">광주</text>
<text transform="translate(93.9 368.6) scale(0.87 1)" class="vl">3.63</text>
<rect x="125.5" y="417.7" width="28.9" height="12.9" rx="3.1" fill="#e8911d"/><text x="140.1" y="427.8" class="lb">전남</text>
<text transform="translate(140.0 388.6) scale(0.87 1)" class="vl">2.98</text>
<rect x="301.9" y="362.7" width="28.9" height="12.9" rx="3.1" fill="#e8911d"/><text x="316.4" y="372.8" class="lb">울산</text>
<text transform="translate(316.9 350.9) scale(0.87 1)" class="vl">0.40</text>
<rect x="198.9" y="388.5" width="28.9" height="12.9" rx="3.1" fill="#e8911d"/><text x="213.4" y="398.6" class="lb">경남</text>
<text transform="translate(213.5 376.8) scale(0.87 1)" class="vl">0.49</text>
<rect x="247.2" y="483.5" width="28.9" height="12.9" rx="3.1" fill="#e8911d"/><text x="261.7" y="493.6" class="lb">제주</text>
<text transform="translate(261.8 472.4) scale(0.87 1)" class="vl">-0.44</text>
<polygon points="408.3,75.0 411.0,72.3 412.6,72.3 441.1,88.0 441.1,89.8 437.9,92.0 418.8,92.0" fill="#145c9c"/><polygon points="429.2,92.0 433.0,90.5 433.0,111.7 429.2,114.3" fill="#1663a6"/><polygon points="411.0,72.3 409.8,75.6 437.9,91.2 437.9,92.9 378.5,92.9 377.3,91.2" fill="#1e7fc6" stroke="#1e7fc6" stroke-width="0.6" stroke-linejoin="round"/><rect x="385.8" y="92" width="43.6" height="22.3" rx="1" fill="#1e7fc6"/><text transform="translate(407.1 108.4) scale(0.95 1)" class="hv" fill="#d8effd">2.88</text><text x="407.5" y="130.6" class="hn">전국</text>
<polygon points="503.8,75.0 506.5,72.3 508.1,72.3 536.6,88.0 536.6,89.8 533.4,92.0 514.3,92.0" fill="#b56d10"/><polygon points="524.7,92.0 528.5,90.5 528.5,111.7 524.7,114.3" fill="#bd7412"/><polygon points="506.5,72.3 505.3,75.6 533.4,91.2 533.4,92.9 474.0,92.9 472.8,91.2" fill="#e8921e" stroke="#e8921e" stroke-width="0.6" stroke-linejoin="round"/><rect x="481.3" y="92" width="43.6" height="22.3" rx="1" fill="#e8921e"/><text transform="translate(502.6 108.4) scale(0.95 1)" class="hv" fill="#fff0c4">3.43</text><text x="502.5" y="130.6" class="hn">수도권</text>
<polygon points="599.3,75.0 602.0,72.3 603.6,72.3 632.1,88.0 632.1,89.8 628.9,92.0 609.8,92.0" fill="#568f1c"/><polygon points="620.2,92.0 624.0,90.5 624.0,111.7 620.2,114.3" fill="#5c961e"/><polygon points="602.0,72.3 600.8,75.6 628.9,91.2 628.9,92.9 569.5,92.9 568.3,91.2" fill="#78b82a" stroke="#78b82a" stroke-width="0.6" stroke-linejoin="round"/><rect x="576.8" y="92" width="43.6" height="22.3" rx="1" fill="#78b82a"/><text transform="translate(598.1 108.4) scale(0.95 1)" class="hv" fill="#edf9cc">1.93</text><text x="598.0" y="130.6" class="hn">지방</text>
<rect x="379.3" y="146.4" width="251.1" height="157.3" fill="#fff" stroke="#b4bbc4" stroke-width="1.9"/><rect x="380.1" y="146.8" width="249.5" height="19.2" fill="#525051"/><text x="505.4" y="161.0" class="ch">연도별 3분기 전국 지가변동률 (누계, %)</text><polygon points="620.2,304.7 631.4,291.9 631.4,304.7" fill="#abb4be"/><path d="M620.2 304.7 C623.1 300.7 623.1 294.7 621.6 289.1 C624.4 291.1 627.9 291.8 631.4 291.9Z" fill="#dde1e6"/>
<rect x="379.3" y="319.4" width="251.1" height="156.6" fill="#fff" stroke="#b4bbc4" stroke-width="1.9"/><rect x="380.1" y="319.8" width="249.5" height="19.2" fill="#525051"/><text x="503.8" y="334.0" class="ch">연도별 3분기 전국 토지거래량(누계 필지수(만))</text><polygon points="620.2,476.9 631.4,464.2 631.4,476.9" fill="#abb4be"/><path d="M620.2 476.9 C623.1 473.0 623.1 467.0 621.6 461.4 C624.4 463.4 627.9 464.1 631.4 464.2Z" fill="#dde1e6"/>
<line x1="405.2" y1="178" x2="405.2" y2="284.35" stroke="#b5b5b5" stroke-width="0.6"/>
<line x1="405.2" y1="284.35" x2="615.5" y2="284.35" stroke="#b5b5b5" stroke-width="0.7"/>
<line x1="403.6" y1="284.4" x2="405.2" y2="284.4" stroke="#b5b5b5" stroke-width="0.5"/>
<text x="398.2" y="286.5" class="axr">0.0</text>
<line x1="403.6" y1="263.3" x2="405.2" y2="263.3" stroke="#b5b5b5" stroke-width="0.5"/>
<text x="398.2" y="265.4" class="axr">1.0</text>
<line x1="403.6" y1="242.2" x2="405.2" y2="242.2" stroke="#b5b5b5" stroke-width="0.5"/>
<text x="398.2" y="244.3" class="axr">2.0</text>
<line x1="403.6" y1="221.1" x2="405.2" y2="221.1" stroke="#b5b5b5" stroke-width="0.5"/>
<text x="398.2" y="223.2" class="axr">3.0</text>
<line x1="403.6" y1="200.0" x2="405.2" y2="200.0" stroke="#b5b5b5" stroke-width="0.5"/>
<text x="398.2" y="202.1" class="axr">4.0</text>
<line x1="403.6" y1="179.0" x2="405.2" y2="179.0" stroke="#b5b5b5" stroke-width="0.5"/>
<text x="398.2" y="181.1" class="axr">5.0</text>
<rect x="410.9" y="199.0" width="4.9" height="85.4" fill="#16a24f"/>
<text x="413.3" y="195.4" class="bv">4.05</text>
<text x="413.3" y="294.4" class="ax">'06</text>
<rect x="425.9" y="227.2" width="4.9" height="57.1" fill="#16a24f"/>
<text x="428.3" y="223.6" class="bv">2.71</text>
<text x="428.3" y="294.4" class="ax">'07</text>
<rect x="440.9" y="201.5" width="4.9" height="82.8" fill="#16a24f"/>
<text x="443.3" y="197.9" class="bv">3.93</text>
<text x="443.3" y="294.4" class="ax">'08</text>
<rect x="455.9" y="283.9" width="4.9" height="0.4" fill="#16a24f"/>
<text x="458.3" y="280.3" class="bv">0.02</text>
<text x="458.3" y="294.4" class="ax">'09</text>
<rect x="470.9" y="264.5" width="4.9" height="19.8" fill="#16a24f"/>
<text x="473.3" y="260.9" class="bv">0.94</text>
<text x="473.3" y="294.4" class="ax">'10</text>
<rect x="485.9" y="265.8" width="4.9" height="18.6" fill="#16a24f"/>
<text x="488.3" y="262.2" class="bv">0.88</text>
<text x="488.3" y="294.4" class="ax">'11</text>
<rect x="500.9" y="268.5" width="4.9" height="15.8" fill="#16a24f"/>
<text x="503.3" y="264.9" class="bv">0.75</text>
<text x="503.3" y="294.4" class="ax">'12</text>
<rect x="515.8" y="270.2" width="4.9" height="14.1" fill="#16a24f"/>
<text x="518.3" y="266.6" class="bv">0.67</text>
<text x="518.3" y="294.4" class="ax">'13</text>
<rect x="530.8" y="254.2" width="4.9" height="30.1" fill="#16a24f"/>
<text x="533.3" y="250.6" class="bv">1.43</text>
<text x="533.3" y="294.4" class="ax">'14</text>
<rect x="545.8" y="249.1" width="4.9" height="35.2" fill="#16a24f"/>
<text x="548.3" y="245.5" class="bv">1.67</text>
<text x="548.3" y="294.4" class="ax">'15</text>
<rect x="560.8" y="242.8" width="4.9" height="41.5" fill="#16a24f"/>
<text x="563.3" y="239.2" class="bv">1.97</text>
<text x="563.3" y="294.4" class="ax">'16</text>
<rect x="575.8" y="222.8" width="4.9" height="61.6" fill="#16a24f"/>
<text x="578.3" y="219.2" class="bv">2.92</text>
<text x="578.3" y="294.4" class="ax">'17</text>
<rect x="590.8" y="214.2" width="4.9" height="70.2" fill="#16a24f"/>
<text x="593.3" y="210.6" class="bv">3.33</text>
<text x="593.3" y="294.4" class="ax">'18</text>
<rect x="605.8" y="223.6" width="4.9" height="60.7" fill="#e3201b"/>
<text x="608.3" y="220.0" class="bv">2.88</text>
<text x="608.3" y="294.4" class="ax">'19</text>
<line x1="406.2" y1="364.5" x2="406.2" y2="458.0" stroke="#a3a3a3" stroke-width="0.6"/>
<line x1="406.2" y1="458.0" x2="615.5" y2="458.0" stroke="#a3a3a3" stroke-width="0.7"/>
<line x1="404.6" y1="458.0" x2="406.2" y2="458.0" stroke="#a3a3a3" stroke-width="0.5"/>
<text x="400.0" y="460.1" class="axr">0</text>
<line x1="404.6" y1="442.6" x2="406.2" y2="442.6" stroke="#a3a3a3" stroke-width="0.5"/>
<text x="400.0" y="444.8" class="axr">50</text>
<line x1="404.6" y1="427.3" x2="406.2" y2="427.3" stroke="#a3a3a3" stroke-width="0.5"/>
<text x="400.0" y="429.4" class="axr">100</text>
<line x1="404.6" y1="411.9" x2="406.2" y2="411.9" stroke="#a3a3a3" stroke-width="0.5"/>
<text x="400.0" y="414.1" class="axr">150</text>
<line x1="404.6" y1="396.6" x2="406.2" y2="396.6" stroke="#a3a3a3" stroke-width="0.5"/>
<text x="400.0" y="398.7" class="axr">200</text>
<line x1="404.6" y1="381.2" x2="406.2" y2="381.2" stroke="#a3a3a3" stroke-width="0.5"/>
<text x="400.0" y="383.4" class="axr">250</text>
<line x1="404.6" y1="365.9" x2="406.2" y2="365.9" stroke="#a3a3a3" stroke-width="0.5"/>
<text x="400.0" y="368.0" class="axr">300</text>
<rect x="410.6" y="408.2" width="6" height="29.0" fill="#92c846"/>
<rect x="410.6" y="437.1" width="6" height="20.9" fill="#0f6ab4"/>
<text x="413.6" y="467" class="ax">'07</text>
<rect x="426.8" y="401.5" width="6" height="33.7" fill="#92c846"/>
<rect x="426.8" y="435.2" width="6" height="22.8" fill="#0f6ab4"/>
<text x="429.8" y="467" class="ax">'08</text>
<rect x="442.9" y="408.1" width="6" height="31.2" fill="#92c846"/>
<rect x="442.9" y="439.4" width="6" height="18.6" fill="#0f6ab4"/>
<text x="445.9" y="467" class="ax">'09</text>
<rect x="459.1" y="412.7" width="6" height="30.4" fill="#92c846"/>
<rect x="459.1" y="443.1" width="6" height="14.9" fill="#0f6ab4"/>
<text x="462.1" y="467" class="ax">'10</text>
<rect x="475.2" y="405.5" width="6" height="35.4" fill="#92c846"/>
<rect x="475.2" y="440.9" width="6" height="17.1" fill="#0f6ab4"/>
<text x="478.2" y="467" class="ax">'11</text>
<rect x="491.4" y="413.1" width="6" height="30.8" fill="#92c846"/>
<rect x="491.4" y="443.9" width="6" height="14.1" fill="#0f6ab4"/>
<text x="494.4" y="467" class="ax">'12</text>
<rect x="507.5" y="409.0" width="6" height="32.9" fill="#92c846"/>
<rect x="507.5" y="441.9" width="6" height="16.1" fill="#0f6ab4"/>
<text x="510.5" y="467" class="ax">'13</text>
<rect x="523.7" y="399.7" width="6" height="38.4" fill="#92c846"/>
<rect x="523.7" y="438.0" width="6" height="20.0" fill="#0f6ab4"/>
<text x="526.7" y="467" class="ax">'14</text>
<rect x="539.8" y="387.7" width="6" height="43.6" fill="#92c846"/>
<rect x="539.8" y="431.3" width="6" height="26.7" fill="#0f6ab4"/>
<text x="542.8" y="467" class="ax">'15</text>
<rect x="556.0" y="391.4" width="6" height="39.5" fill="#92c846"/>
<rect x="556.0" y="430.8" width="6" height="27.2" fill="#0f6ab4"/>
<text x="559.0" y="467" class="ax">'16</text>
<rect x="572.1" y="381.7" width="6" height="43.2" fill="#92c846"/>
<rect x="572.1" y="424.8" width="6" height="33.2" fill="#0f6ab4"/>
<text x="575.1" y="467" class="ax">'17</text>
<rect x="588.3" y="384.0" width="6" height="40.1" fill="#92c846"/>
<rect x="588.3" y="424.1" width="6" height="33.9" fill="#0f6ab4"/>
<text x="591.3" y="467" class="ax">'18</text>
<rect x="604.4" y="394.9" width="6" height="35.0" fill="#92c846"/>
<rect x="604.4" y="429.9" width="6" height="28.1" fill="#0f6ab4"/>
<text x="607.4" y="467" class="ax">'19</text>
<polyline points="413.6,408.2 429.8,401.5 445.9,408.1 462.1,412.7 478.2,405.5 494.4,413.1 510.5,409.0 526.7,399.7 542.8,387.7 559.0,391.4 575.1,381.7 591.3,384.0 607.4,394.9" fill="none" stroke="#ad1a1c" stroke-width="1.15"/>
<circle cx="413.6" cy="408.2" r="1.55" fill="#a51a1c"/>
<text x="413.6" y="403.3" class="bv">162.3</text>
<circle cx="429.8" cy="401.5" r="1.55" fill="#a51a1c"/>
<text x="429.8" y="396.6" class="bv">184.1</text>
<circle cx="445.9" cy="408.1" r="1.55" fill="#a51a1c"/>
<text x="445.9" y="403.2" class="bv">162.4</text>
<circle cx="462.1" cy="412.7" r="1.55" fill="#a51a1c"/>
<text x="462.1" y="407.8" class="bv">147.5</text>
<circle cx="478.2" cy="405.5" r="1.55" fill="#a51a1c"/>
<text x="478.2" y="400.6" class="bv">171.1</text>
<circle cx="494.4" cy="413.1" r="1.55" fill="#a51a1c"/>
<text x="494.4" y="408.2" class="bv">146.3</text>
<circle cx="510.5" cy="409.0" r="1.55" fill="#a51a1c"/>
<text x="510.5" y="404.1" class="bv">159.7</text>
<circle cx="526.7" cy="399.7" r="1.55" fill="#a51a1c"/>
<text x="526.7" y="394.8" class="bv">190.0</text>
<circle cx="542.8" cy="387.7" r="1.55" fill="#a51a1c"/>
<text x="542.8" y="382.8" class="bv">229.0</text>
<circle cx="559.0" cy="391.4" r="1.55" fill="#a51a1c"/>
<text x="559.0" y="386.5" class="bv">217.1</text>
<circle cx="575.1" cy="381.7" r="1.55" fill="#a51a1c"/>
<text x="575.1" y="376.8" class="bv">248.6</text>
<circle cx="591.3" cy="384.0" r="1.55" fill="#a51a1c"/>
<text x="591.3" y="379.1" class="bv">241.2</text>
<circle cx="607.4" cy="394.9" r="1.55" fill="#a51a1c"/>
<text x="607.4" y="390.0" class="bv">205.6</text>
<line x1="391" y1="351.4" x2="404" y2="351.4" stroke="#ad1a1c" stroke-width="1.3"/><circle cx="397.5" cy="351.4" r="1.9" fill="#a51a1c"/>
<text x="407.5" y="353.2" class="lg">전국</text>
<line x1="424" y1="351.4" x2="435" y2="351.4" stroke="#92c846" stroke-width="2.3"/>
<text x="439.5" y="353.2" class="lg">지방</text>
<line x1="456" y1="351.4" x2="467.5" y2="351.4" stroke="#0f6ab4" stroke-width="2.3"/>
<text x="471" y="353.2" class="lg">수도권</text>
<text x="384" y="360.8" style="font-size:5.2px;font-weight:500;fill:#222">신고 필지수(만)</text>
</svg></body></html>
